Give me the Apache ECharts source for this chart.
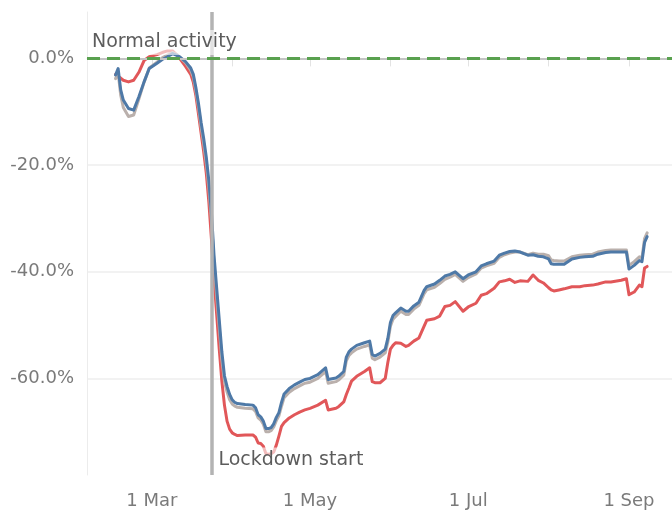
<!DOCTYPE html>
<html>
<head>
<meta charset="utf-8">
<script src="https://cdn.jsdelivr.net/npm/echarts@6/dist/echarts.min.js"></script>
<style>
  html, body { margin: 0; padding: 0; background: #fff; }
  #chart { width: 672px; height: 515px; }
</style>
</head>
<body>
<div id="chart"></div>
<script>
// --- data ---
const dates = [
  '2020-02-16','2020-02-17','2020-02-18','2020-02-19','2020-02-21','2020-02-23','2020-02-25','2020-02-27','2020-02-29',
  '2020-03-03','2020-03-05','2020-03-07','2020-03-09','2020-03-11','2020-03-12','2020-03-14','2020-03-16','2020-03-17',
  '2020-03-18','2020-03-19','2020-03-20','2020-03-21','2020-03-22','2020-03-23','2020-03-24','2020-03-25','2020-03-26',
  '2020-03-27','2020-03-28','2020-03-29','2020-03-30','2020-03-31',
  '2020-04-01','2020-04-02','2020-04-03','2020-04-06','2020-04-09','2020-04-10','2020-04-11','2020-04-12','2020-04-13',
  '2020-04-14','2020-04-15','2020-04-16','2020-04-17','2020-04-18','2020-04-19','2020-04-20','2020-04-21','2020-04-23',
  '2020-04-25','2020-04-27','2020-04-29',
  '2020-05-01','2020-05-04','2020-05-07','2020-05-08','2020-05-11','2020-05-12','2020-05-14','2020-05-15','2020-05-16',
  '2020-05-17','2020-05-19','2020-05-22','2020-05-24','2020-05-25','2020-05-26','2020-05-28','2020-05-30','2020-05-31',
  '2020-06-01','2020-06-02','2020-06-03','2020-06-05','2020-06-07','2020-06-08','2020-06-10','2020-06-12','2020-06-14',
  '2020-06-15','2020-06-18','2020-06-20','2020-06-22','2020-06-24','2020-06-26','2020-06-29',
  '2020-07-01','2020-07-04','2020-07-06','2020-07-08','2020-07-11','2020-07-13','2020-07-15','2020-07-17','2020-07-19',
  '2020-07-21','2020-07-24','2020-07-26','2020-07-28','2020-07-30',
  '2020-08-01','2020-08-02','2020-08-03','2020-08-05','2020-08-07','2020-08-10','2020-08-13','2020-08-15','2020-08-18',
  '2020-08-20','2020-08-23','2020-08-25','2020-08-29','2020-08-31',
  '2020-09-01','2020-09-03','2020-09-05','2020-09-06','2020-09-07','2020-09-08'
];

const redValues = [
  -3.0, -3.4, -3.7, -4.1, -4.4, -4.1, -2.6, -0.4, 0.3,
  0.7, 1.1, 1.4, 1.4, 0.5, -0.2, -1.5, -3, -4.5,
  -7, -10.5, -14, -17.5, -21.5, -27, -34, -41.5, -48,
  -54.5, -60.5, -65, -68, -69.5,
  -70.2, -70.5, -70.7, -70.6, -70.6, -71, -72.1, -72.2, -72.7,
  -74.1, -74.2, -74.1, -73.8, -72.5, -70.8, -69, -68.3, -67.4,
  -66.8, -66.3, -65.9,
  -65.6, -65, -64.1, -65.9, -65.6, -65.3, -64.4, -63, -61.8,
  -60.5, -59.6, -58.7, -58, -60.6, -60.8, -60.8, -60, -57,
  -54.5, -53.8, -53.3, -53.4, -54, -53.8, -53, -52.4, -50.2,
  -49.1, -48.8, -48.3, -46.5, -46.3, -45.6, -47.4,
  -46.6, -45.9, -44.4, -44.1, -43.1, -41.9, -41.7, -41.4, -42,
  -41.7, -41.8, -40.6, -41.6, -42.1,
  -43, -43.4, -43.6, -43.4, -43.2, -42.8, -42.8, -42.6, -42.5,
  -42.3, -41.9, -41.9, -41.6, -41.3,
  -44.3, -43.8, -42.5, -42.8, -39.3, -39
];

const grayValues = [
  -3.8, -2.6, -6.9, -9.2, -10.9, -10.6, -7.6, -4.5, -1.8,
  -0.7, 0.1, 0.6, 1.1, 0.6, 0.1, -0.8, -2.2, -3.5,
  -6.1, -9.2, -12.8, -16, -19.6, -24.3, -30.5, -38.5, -44.5,
  -50.5, -56.5, -60.5, -62.5, -64,
  -64.8, -65.2, -65.4, -65.6, -65.7, -66.2, -67.4, -67.8, -68.6,
  -70, -70, -69.8, -69.1, -67.9, -67, -65.2, -63.6, -62.6,
  -61.9, -61.4, -60.9,
  -60.7, -60, -58.7, -60.9, -60.6, -60.3, -59.4, -56.7, -55.7,
  -55.2, -54.5, -54, -53.7, -56.2, -56.5, -56, -55.2, -53.2,
  -50.2, -48.9, -48.4, -47.4, -48, -48, -47, -46.3, -44.1,
  -43.4, -42.9, -42.2, -41.4, -41, -40.5, -41.8,
  -41.1, -40.4, -39.3, -38.9, -38.4, -37.3, -36.8, -36.5, -36.3,
  -36.3, -36.8, -36.5, -36.7, -36.7,
  -37, -37.8, -37.9, -38, -38, -37.2, -36.9, -36.8, -36.7,
  -36.3, -36, -35.9, -35.9, -35.9,
  -38.8, -38.1, -37.2, -37.4, -33.8, -32.7
];

const blueValues = [
  -3.1, -1.9, -5.9, -7.8, -9.4, -9.7, -7.2, -4.4, -1.9,
  -0.9, -0.2, 0.3, 0.9, 0.5, 0.2, -0.6, -1.8, -3,
  -5.5, -8.5, -12, -15, -18.5, -23, -29, -37, -43,
  -49, -55, -59.5, -61.5, -63,
  -64, -64.5, -64.7, -64.9, -65, -65.5, -66.8, -67.2, -68,
  -69.4, -69.4, -69.2, -68.5, -67.3, -66.4, -64.5, -62.9, -61.9,
  -61.2, -60.7, -60.2,
  -60, -59.3, -58, -60.2, -59.9, -59.6, -58.7, -56, -55,
  -54.5, -53.8, -53.3, -53, -55.5, -55.8, -55.3, -54.5, -52.5,
  -49.5, -48.2, -47.7, -46.8, -47.4, -47.4, -46.4, -45.7, -43.5,
  -42.8, -42.3, -41.6, -40.8, -40.5, -40, -41.3,
  -40.6, -40, -38.9, -38.5, -38, -36.9, -36.5, -36.2, -36.1,
  -36.3, -36.9, -36.8, -37.1, -37.2,
  -37.6, -38.5, -38.6, -38.6, -38.6, -37.6, -37.3, -37.2, -37.1,
  -36.7, -36.4, -36.3, -36.3, -36.3,
  -39.5, -38.8, -37.9, -38.1, -34.5, -33.4
];

const yTicks = [0, -20, -40, -60];
const monthTicks = ['2020-03-01','2020-04-01','2020-05-01','2020-06-01','2020-07-01','2020-08-01','2020-09-01'];
const monthLabels = ['2020-03-01','2020-05-01','2020-07-01','2020-09-01'];
const lockdownDate = '2020-03-24';
const normalLevel = 0;

// --- helpers ---
const MONTHS = ['Jan','Feb','Mar','Apr','May','Jun','Jul','Aug','Sep','Oct','Nov','Dec'];
const t = (s) => Date.parse(s);
const pairs = (vals) => dates.map((d, i) => [t(d), vals[i]]);

const X_MIN = Date.UTC(2020, 1, 5);
const X_MAX = Date.UTC(2020, 8, 17, 14);
const Y_MIN = -78.1;
const Y_MAX = 8.7;

const FONT = 'DejaVu Sans';
const lineSeries = (name, color, vals) => ({
  name,
  type: 'line',
  data: pairs(vals),
  showSymbol: false,
  symbol: 'none',
  z: 3,
  lineStyle: { color, width: 3, join: 'round', cap: 'round' }
});

const noteLabel = (text, distance, offset) => ({
  show: true,
  position: 'right',
  distance,
  offset,
  formatter: text,
  fontFamily: FONT,
  fontSize: 19,
  color: '#5c5c5c',
  backgroundColor: 'rgba(255,255,255,0.6)',
  padding: [3, 3, 3, 3]
});

const chart = echarts.init(document.getElementById('chart'));

chart.setOption({
  animation: false,
  backgroundColor: '#fff',
  grid: { left: 87, right: 0, top: 12, bottom: 40, containLabel: false },
  xAxis: {
    type: 'value',
    min: X_MIN,
    max: X_MAX,
    axisLine: { show: true, lineStyle: { color: '#e6e6e6', width: 1 } },
    axisTick: {
      show: true,
      length: 8,
      lineStyle: { color: '#e3e3e3', width: 1 },
      customValues: monthTicks.map(t)
    },
    axisLabel: {
      customValues: monthLabels.map(t),
      margin: 17,
      fontFamily: FONT,
      fontSize: 18,
      color: '#7a7a7a',
      formatter: (v) => {
        const d = new Date(v);
        return d.getUTCDate() + ' ' + MONTHS[d.getUTCMonth()];
      }
    },
    splitLine: { show: false }
  },
  yAxis: {
    type: 'value',
    min: Y_MIN,
    max: Y_MAX,
    axisLine: { show: true, lineStyle: { color: '#ececec', width: 1 } },
    axisTick: { show: false, customValues: yTicks },
    axisLabel: {
      customValues: yTicks,
      margin: 13,
      fontFamily: FONT,
      fontSize: 18,
      color: '#7a7a7a',
      formatter: (v) => v.toFixed(1) + '%'
    },
    splitLine: { show: true, lineStyle: { color: '#eeeeee', width: 1.5 } }
  },
  series: [
    // reference lines, under the data
    {
      name: 'refs',
      type: 'line',
      data: [],
      z: 1,
      silent: true,
      markLine: {
        symbol: 'none',
        silent: true,
        label: { show: false },
        data: [
          { xAxis: t(lockdownDate), lineStyle: { color: '#b3b3b3', width: 3.5, type: 'solid' } },
          { yAxis: normalLevel, lineStyle: { color: '#c4c4c4', width: 2, type: 'solid' } },
          { yAxis: normalLevel, lineStyle: { color: '#59a14f', width: 3, type: [13, 7] } }
        ]
      }
    },
    lineSeries('Red', '#e15759', redValues),
    lineSeries('Gray', '#bab0ac', grayValues),
    lineSeries('Blue', '#4e79a7', blueValues),
    // annotation labels, above the data
    {
      name: 'notes',
      type: 'line',
      data: [],
      z: 10,
      silent: true,
      markPoint: {
        symbol: 'circle',
        symbolSize: 0,
        silent: true,
        data: [
          { coord: [X_MIN, normalLevel], label: noteLabel('Normal activity', 2, [0, -16]) },
          { coord: [t(lockdownDate), Y_MIN], label: noteLabel('Lockdown start', 4, [0, -15]) }
        ]
      }
    }
  ]
});
</script>
</body>
</html>
